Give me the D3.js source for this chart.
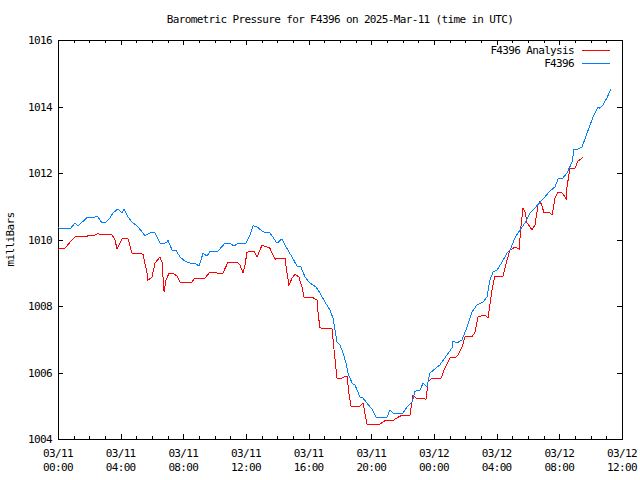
<!DOCTYPE html>
<html><head><meta charset="utf-8">
<script src="https://cdn.jsdelivr.net/npm/d3@7"></script>
<style>
body{margin:0;background:#fff;}
svg text{font-family:"DejaVu Sans Mono",monospace;font-size:11px;letter-spacing:-0.65px;fill:#000;}
</style></head><body>
<svg id="c" width="640" height="480"></svg>
<script>
const titleText = "Barometric Pressure for F4396 on 2025-Mar-11 (time in UTC)";
const yLabel = "milliBars";
const seriesNames = ["F4396 Analysis", "F4396"];
const seriesColors = ["#ff0000", "#0080ff"];
const yTicks = [1004, 1006, 1008, 1010, 1012, 1014, 1016];
const xMajorHours = [0, 4, 8, 12, 16, 20, 24, 28, 32, 36];
// hours since 2025-03-11 00:00 UTC
const analysisHours = [0,0.45,0.77,1.09,1.72,1.91,2.23,2.49,3.45,3.64,3.77,4.09,4.47,4.72,5.43,5.68,5.74,6.00,6.19,6.51,6.64,6.77,6.89,7.09,7.34,7.60,7.79,8.55,8.74,9.38,9.70,10.02,10.34,10.53,10.85,11.43,11.62,11.81,11.94,12.06,12.51,12.70,13.02,13.34,13.53,13.66,13.85,14.17,14.49,14.62,14.74,14.94,15.13,15.38,15.57,15.70,16.21,16.53,16.60,16.72,17.49,17.62,17.81,18.00,18.19,18.45,18.57,18.70,19.28,19.47,19.72,20.55,20.94,21.32,21.83,22.47,22.66,22.85,23.49,23.62,23.87,24.45,24.70,25.02,25.34,25.53,25.79,25.98,26.43,26.62,26.81,27.25,27.45,27.70,27.89,28.40,28.66,28.85,29.17,29.43,29.55,29.68,29.81,29.94,30.26,30.45,30.64,30.77,30.89,31.02,31.40,31.53,31.60,31.72,31.92,32.17,32.36,32.43,32.49,32.68,33.00,33.19,33.45,33.51];
const analysisValues = [1009.71,1009.74,1009.92,1010.08,1010.08,1010.11,1010.11,1010.17,1010.14,1009.98,1009.71,1010.02,1010.02,1009.59,1009.56,1008.99,1008.78,1008.87,1009.29,1009.47,1009.32,1008.42,1008.78,1008.99,1008.99,1008.90,1008.72,1008.72,1008.84,1008.84,1009.02,1009.02,1008.96,1008.99,1009.32,1009.32,1009.23,1008.99,1009.23,1009.62,1009.65,1009.47,1009.83,1009.77,1009.74,1009.59,1009.41,1009.44,1009.44,1008.99,1008.63,1008.84,1008.96,1008.87,1008.57,1008.27,1008.27,1008.18,1007.79,1007.34,1007.31,1006.68,1005.83,1005.80,1005.86,1005.89,1005.38,1004.99,1004.99,1005.08,1004.45,1004.45,1004.57,1004.54,1004.69,1004.72,1005.32,1005.23,1005.20,1005.71,1005.83,1005.83,1006.14,1006.44,1006.44,1006.53,1006.77,1007.07,1007.07,1007.22,1007.67,1007.73,1007.64,1008.48,1008.90,1008.90,1009.38,1009.68,1009.77,1009.71,1010.38,1010.95,1010.83,1010.50,1010.29,1010.44,1011.04,1011.16,1011.01,1010.80,1010.80,1010.74,1010.89,1011.25,1011.43,1011.40,1011.28,1011.22,1011.58,1012.15,1012.15,1012.36,1012.45,1012.48];
const stationHours = [0,0.57,0.77,1.09,1.28,1.91,2.17,2.36,2.55,2.81,3.00,3.32,3.51,3.83,4.09,4.21,4.47,4.72,5.11,5.36,5.55,5.87,6.19,6.51,6.83,6.96,7.02,7.28,7.53,7.79,8.11,8.43,8.74,9.00,9.26,9.51,9.70,10.21,10.66,10.98,11.23,11.49,12.00,12.26,12.45,12.70,13.02,13.21,13.53,13.98,14.30,14.49,14.94,15.26,15.51,15.77,16.08,16.47,16.72,17.04,17.36,17.55,17.68,17.81,18.00,18.19,18.38,18.51,18.77,18.96,19.28,19.47,19.72,20.04,20.30,21.00,21.19,21.38,22.02,22.28,22.60,22.79,23.11,23.30,23.55,23.74,24.06,24.38,24.83,25.15,25.21,25.47,25.66,25.79,26.11,26.43,26.74,27.13,27.38,27.57,27.77,28.02,28.34,28.66,28.85,29.17,29.49,29.81,30.13,30.45,30.89,31.08,31.40,31.72,31.92,32.17,32.49,32.81,32.94,33.19,33.45,33.77,34.15,34.47,34.59,34.79,35.04,35.30];
const stationValues = [1010.35,1010.32,1010.32,1010.50,1010.41,1010.68,1010.65,1010.68,1010.68,1010.50,1010.50,1010.65,1010.80,1010.92,1010.80,1010.92,1010.68,1010.53,1010.38,1010.23,1010.11,1010.20,1010.20,1009.89,1009.89,1009.92,1009.98,1009.68,1009.68,1009.47,1009.35,1009.29,1009.29,1009.20,1009.59,1009.50,1009.65,1009.65,1009.89,1009.89,1009.80,1009.89,1009.89,1010.14,1010.41,1010.38,1010.26,1010.20,1010.20,1009.89,1010.02,1009.83,1009.47,1009.20,1009.17,1008.87,1008.69,1008.57,1008.39,1008.12,1007.88,1007.64,1007.28,1006.92,1006.83,1006.59,1006.29,1005.98,1005.68,1005.62,1005.26,1005.23,1005.08,1004.90,1004.66,1004.66,1004.87,1004.78,1004.78,1004.96,1005.11,1005.44,1005.47,1005.68,1005.56,1005.98,1006.11,1006.23,1006.53,1006.74,1006.95,1006.89,1006.95,1006.98,1007.37,1007.82,1008.03,1008.12,1008.27,1008.78,1009.02,1009.08,1009.32,1009.59,1009.68,1010.05,1010.29,1010.50,1010.80,1010.95,1011.19,1011.28,1011.46,1011.58,1011.82,1011.82,1012.00,1012.33,1012.72,1012.72,1012.78,1013.20,1013.68,1013.98,1013.95,1014.05,1014.26,1014.53];

const base = Date.UTC(2025, 2, 11, 0, 0);
const toDate = h => new Date(base + h * 3600000);
const L = 58, R = 622, T = 40, B = 439;

const svg = d3.select("#c");
const x = d3.scaleUtc().domain([toDate(0), toDate(36)]).range([L, R]);
const y = d3.scaleLinear().domain([1004, 1016]).range([B, T]);

// frame
svg.append("rect").attr("x", L).attr("y", T).attr("width", R - L).attr("height", B - T)
  .attr("fill", "none").attr("stroke", "#000").attr("shape-rendering", "crispEdges");

const g = svg.append("g").attr("stroke", "#000").attr("shape-rendering", "crispEdges");
// x ticks hourly (minor) and 4-hourly (major)
for (let h = 1; h < 36; h++) {
  const len = (h % 4 === 0) ? 5 : 3;
  const xp = Math.round(x(toDate(h)));
  g.append("line").attr("x1", xp).attr("x2", xp).attr("y1", B).attr("y2", B - len);
  g.append("line").attr("x1", xp).attr("x2", xp).attr("y1", T).attr("y2", T + len);
}
yTicks.forEach(v => {
  const yp = Math.round(y(v));
  g.append("line").attr("x1", L).attr("x2", L + 5).attr("y1", yp).attr("y2", yp);
  g.append("line").attr("x1", R).attr("x2", R - 5).attr("y1", yp).attr("y2", yp);
});

// y tick labels
svg.selectAll(".yl").data(yTicks).enter().append("text")
  .attr("x", 52).attr("y", d => y(d) + 4).attr("text-anchor", "end").text(d => d);

// x tick labels
const fmtD = d3.utcFormat("%m/%d"), fmtT = d3.utcFormat("%H:%M");
xMajorHours.forEach(h => {
  const d = toDate(h);
  const t = svg.append("text").attr("text-anchor", "middle");
  t.append("tspan").attr("x", x(d)).attr("y", 457).text(fmtD(d));
  t.append("tspan").attr("x", x(d)).attr("y", 471).text(fmtT(d));
});

// title and y label
svg.append("text").attr("x", (L + R) / 2).attr("y", 23).attr("text-anchor", "middle").text(titleText);
svg.append("text").attr("transform", `translate(14,${(T + B) / 2}) rotate(-90)`).attr("text-anchor", "middle").text(yLabel);

// series
const line = d3.line().x(d => x(toDate(d[0]))).y(d => y(d[1]));
const series = [
  analysisHours.map((h, i) => [h, analysisValues[i]]),
  stationHours.map((h, i) => [h, stationValues[i]])
];
series.forEach((s, i) => {
  svg.append("path").datum(s).attr("d", line).attr("fill", "none")
    .attr("stroke", seriesColors[i]).attr("stroke-width", 1).attr("shape-rendering", "crispEdges");
});

// legend
seriesNames.forEach((n, i) => {
  const ly = 50 + i * 13;
  svg.append("text").attr("x", 574).attr("y", ly + 4).attr("text-anchor", "end").text(n);
  svg.append("line").attr("x1", 582).attr("x2", 610).attr("y1", ly).attr("y2", ly)
    .attr("stroke", seriesColors[i]).attr("shape-rendering", "crispEdges");
});
</script>
</body></html>
